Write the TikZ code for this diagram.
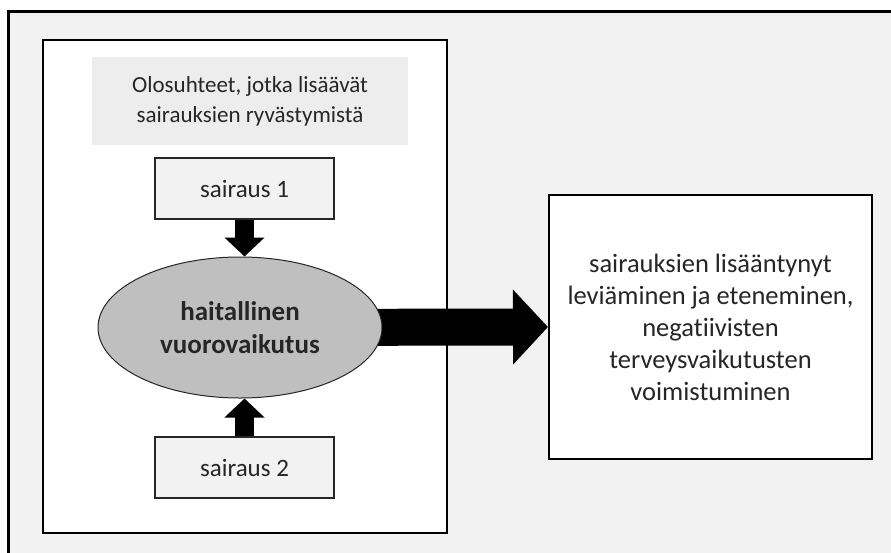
\documentclass[tikz,border=0pt]{standalone}
\usepackage{fontspec}
\setmainfont[Ligatures=NoCommon]{Carlito}
\usetikzlibrary{arrows.meta,shapes.geometric}
\definecolor{panelgray}{HTML}{F2F2F2}
\definecolor{titlegray}{HTML}{EDEDED}
\definecolor{ovalgray}{HTML}{BFBFBF}
\definecolor{edgegray}{HTML}{262626}
\tikzset{
  txt/.style={font=\fontsize{25}{32}\selectfont, text=black!85, align=center},
  diseasebox/.style={draw=edgegray, line width=1.3pt, fill=panelgray, minimum width=179pt, minimum height=61pt, inner sep=0pt, txt},
  blockarrow/.style={line width=19pt, -{Triangle[width=39pt,length=19pt]}},
  bigarrow/.style={line width=37pt, -{Triangle[width=73pt,length=35pt]}}
}
\begin{document}
\begin{tikzpicture}[x=1pt,y=-1pt]
\useasboundingbox (0,0) rectangle (891,552);
\clip (0,0) rectangle (891,552);
\fill[white] (0,0) rectangle (891,552);
% outer panel
\draw[line width=3pt, fill=panelgray] (8.5,11.5) rectangle (905,570);
% inner frame
\draw[line width=2pt, fill=white] (43,39.5) rectangle (446.5,533);
% heading
\node[fill=titlegray, minimum width=316pt, minimum height=88pt, inner sep=0pt, txt,
  font=\fontsize{23}{30}\selectfont] (head) at (250,101)
  {Olosuhteet, jotka lisäävät\\sairauksien ryvästymistä};
% disease boxes
\node[diseasebox] (s1) at (244.5,188.5) {sairaus 1};
\node[diseasebox] (s2) at (244.5,467.5) {sairaus 2};
% outcome box
\node[draw=black, line width=2pt, fill=white, minimum width=323pt, minimum height=264pt, inner sep=0pt, txt,
  font=\fontsize{26.5}{32}\selectfont] (out) at (710.5,327)
  {sairauksien lisääntynyt\\leviäminen ja eteneminen,\\negatiivisten\\terveysvaikutusten\\voimistuminen};
% central interaction
\coordinate (c) at (240,327.5);
\draw[bigarrow] (c) -- (out.west);
\node[ellipse, draw=edgegray, line width=1pt, fill=ovalgray, minimum width=284pt, minimum height=141pt, inner sep=0pt,
  font=\fontsize{27}{33}\selectfont\bfseries, text=black!85, align=center] (ell) at (c)
  {haitallinen\\vuorovaikutus};
\draw[blockarrow] (s1.south) -- (s1.south |- ell.north);
\draw[blockarrow] (s2.north) -- (s2.north |- ell.south);
\end{tikzpicture}
\end{document}
